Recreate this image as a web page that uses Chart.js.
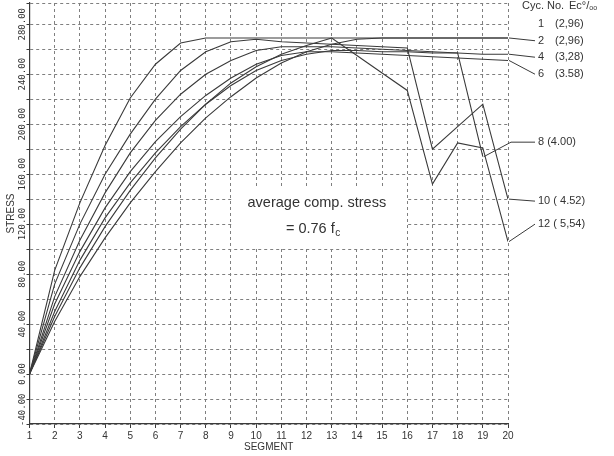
<!DOCTYPE html>
<html>
<head>
<meta charset="utf-8">
<script src="https://cdn.jsdelivr.net/npm/chart.js@4.4.0/dist/chart.umd.min.js"></script>
<style>
  html, body { margin: 0; padding: 0; background: #fff; }
  #wrap { width: 614px; height: 456px; }
</style>
</head>
<body>
<div id="wrap"><canvas id="stressChart" width="614" height="456"></canvas></div>
<script>
// Segmente (x-Achse)
const segments = [1, 2, 3, 4, 5, 6, 7, 8, 9, 10, 11, 12, 13, 14, 15, 16, 17, 18, 19, 20];

// y-Gitter und Beschriftung
const yGridValues = [-40, -20, 0, 20, 40, 60, 80, 100, 120, 140, 160, 180, 200, 220, 240, 260, 280, 297];
const yTickValues = [-40, 0, 40, 80, 120, 160, 200, 240, 280];
const yTickLabels = ['-40.00', '0.00', '40.00', '80.00', '120.00', '160.00', '200.00', '240.00', '280.00'];

// Spannung je Zyklus
const cyc1  = [0, 42, 78, 109, 137, 162, 185, 205, 222, 237, 249, 258, 264, 268, 269, 269, 269, 269, 269, 269];
const cyc2  = [0, 46, 85, 118, 147, 173, 196, 216, 233, 246, 256, 263, 269, 269, 269, 269, 269, 269, 269, 269];
const cyc4  = [0, 50, 91, 125, 153, 177, 198, 216, 231, 243, 251, 256, 259, 259, 258, 258, 257, 257, 256, 256];
const cyc6  = [0, 56, 98, 133, 162, 186, 206, 223, 237, 248, 255, 258, 258, 257, 256, 255, 254, 253, 252, 251];
const cyc8  = [0, 62, 107, 145, 177, 203, 224, 240, 251, 259, 262, 262, 262, 261, 260, 259, 258, 257, 174];
const cyc10 = [0, 72, 120, 160, 192, 220, 243, 258, 266, 268, 266, 265, 264, 263, 262, 261, 180, 198, 216, 140];
const cyc12 = [0, 83, 137, 183, 221, 248, 265, 269, 269, 269, 269, 269, 269, 255, 241, 227, 152, 185, 181, 106];

// Legende rechts
const cycleNames = ['1', '2', '4', '6', '8', '10', '12'];
const strainTexts = ['(2,96)', '(2,96)', '(3,28)', '(3.58)', '(4.00)', '( 4.52)', '( 5,54)'];
const labelValues = [280, 266.8, 253.6, 240, 185.6, 138.4, 120];

const series = [cyc1, cyc2, cyc4, cyc6, cyc8, cyc10, cyc12];

const lineColor = '#3a3a3a';
const gridColor = '#7f7f7f';
const textColor = '#333';

// Leerer Bereich im Gitter fuer den Text
const blankBox = { segFrom: 9.08, segTo: 15.95, valTop: 149, valBottom: 102 };
const noteSeg = 12.41;
const noteVal1 = 136.8;
const noteVal2 = 116;

function toPoints(values) {
  return values.map((v, i) => ({ x: segments[i], y: v }));
}

// Weisses Feld im Gitter
const blankBoxPlugin = {
  id: 'blankBox',
  beforeDatasetsDraw(chart) {
    const { ctx, scales: { x, y } } = chart;
    const x1 = x.getPixelForValue(blankBox.segFrom);
    const x2 = x.getPixelForValue(blankBox.segTo);
    const y1 = y.getPixelForValue(blankBox.valTop);
    const y2 = y.getPixelForValue(blankBox.valBottom);
    ctx.save();
    ctx.fillStyle = '#fff';
    ctx.fillRect(x1, y1, x2 - x1, y2 - y1);
    ctx.restore();
  }
};

// Text im Diagramm, y-Beschriftung und Legende
const textPlugin = {
  id: 'texts',
  afterDraw(chart) {
    const { ctx, chartArea, scales: { x, y } } = chart;
    ctx.save();
    ctx.fillStyle = textColor;

    // average comp. stress
    ctx.font = '14.5px "Liberation Sans", Arial, sans-serif';
    ctx.textAlign = 'center';
    ctx.textBaseline = 'middle';
    const cx = x.getPixelForValue(noteSeg);
    ctx.fillText('average comp. stress', cx, y.getPixelForValue(noteVal1));
    const main = '= 0.76 f';
    const wMain = ctx.measureText(main).width;
    ctx.font = '10px "Liberation Sans", Arial, sans-serif';
    const wSub = ctx.measureText('c').width;
    const startX = cx - (wMain + wSub) / 2 - 4;
    const ly = y.getPixelForValue(noteVal2);
    ctx.textAlign = 'left';
    ctx.font = '14.5px "Liberation Sans", Arial, sans-serif';
    ctx.fillText(main, startX, ly);
    ctx.font = '10px "Liberation Sans", Arial, sans-serif';
    ctx.fillText('c', startX + wMain + 0.5, ly + 4);

    // gedrehte y-Beschriftung (nicht unter die Achse)
    ctx.font = '9px "DejaVu Sans Mono", monospace';
    ctx.textAlign = 'center';
    ctx.textBaseline = 'middle';
    yTickValues.forEach((v, i) => {
      const half = ctx.measureText(yTickLabels[i]).width / 2;
      const py = Math.min(y.getPixelForValue(v), chartArea.bottom + 2 - half);
      ctx.save();
      ctx.translate(22.5, py);
      ctx.rotate(-Math.PI / 2);
      ctx.fillText(yTickLabels[i], 0, 0);
      ctx.restore();
    });

    // Legende rechts
    const labelX = chartArea.right + 30;
    const strainX = chartArea.right + 47;
    ctx.font = '11px "Liberation Sans", Arial, sans-serif';
    ctx.textAlign = 'left';
    ctx.textBaseline = 'middle';
    ctx.fillText('Cyc. No.', chartArea.right + 14, y.getPixelForValue(294.5));
    ctx.fillText('Ec°/', chartArea.right + 61, y.getPixelForValue(294.5));
    const wEc = ctx.measureText('Ec°/').width;
    ctx.font = '7px "Liberation Sans", Arial, sans-serif';
    ctx.fillText('oo', chartArea.right + 61 + wEc, y.getPixelForValue(294.5) + 2);

    ctx.font = '11px "Liberation Sans", Arial, sans-serif';
    ctx.strokeStyle = lineColor;
    ctx.lineWidth = 1;
    series.forEach((vals, i) => {
      const ly = y.getPixelForValue(labelValues[i]);
      if (i < 4) {
        ctx.fillText(cycleNames[i], labelX, ly);
        ctx.fillText(strainTexts[i], strainX, ly);
      } else {
        ctx.fillText(cycleNames[i] + ' ' + strainTexts[i], labelX, ly);
      }
      if (i === 0) return;
      const last = vals.length - 1;
      const ex = x.getPixelForValue(segments[last]);
      const ey = y.getPixelForValue(vals[last]);
      ctx.beginPath();
      ctx.moveTo(ex + 1, ey);
      if (last < segments.length - 1) {
        ctx.lineTo(chartArea.right + 3, ly);
      }
      ctx.lineTo(labelX - 3, ly);
      ctx.stroke();
    });
    ctx.restore();
  }
};

const ctx = document.getElementById('stressChart').getContext('2d');
new Chart(ctx, {
  type: 'line',
  data: {
    datasets: series.map((vals, i) => ({
      label: 'Cyc. ' + cycleNames[i],
      data: toPoints(vals),
      borderColor: lineColor,
      borderWidth: 1.1,
      pointRadius: 0,
      tension: 0,
      fill: false
    }))
  },
  options: {
    responsive: false,
    animation: false,
    devicePixelRatio: 1,
    layout: { autoPadding: false, padding: { left: 0, right: 106, top: 3, bottom: 0 } },
    plugins: {
      legend: { display: false },
      tooltip: { enabled: false }
    },
    scales: {
      x: {
        type: 'linear',
        min: 1,
        max: 20,
        afterFit: s => { s.height = 32; },
        ticks: {
          stepSize: 1,
          color: textColor,
          padding: 2,
          font: { family: '"Liberation Sans", Arial, sans-serif', size: 10 }
        },
        grid: { color: gridColor, tickColor: lineColor, tickLength: 4, lineWidth: 1 },
        border: { display: true, color: lineColor, width: 1.2, dash: [3, 3] },
        title: {
          display: true,
          text: 'SEGMENT',
          color: textColor,
          padding: { top: 0, bottom: 3 },
          font: { family: '"Liberation Sans", Arial, sans-serif', size: 10 }
        }
      },
      y: {
        type: 'linear',
        min: -40,
        max: 297,
        afterFit: s => { s.width = 29.5; },
        afterBuildTicks: s => { s.ticks = yGridValues.map(v => ({ value: v })); },
        ticks: { display: false },
        grid: { color: gridColor, tickColor: lineColor, tickLength: 3, lineWidth: 1 },
        border: { display: true, color: lineColor, width: 1.2, dash: [3, 3] },
        title: {
          display: true,
          text: 'STRESS',
          color: textColor,
          padding: { top: 5, bottom: 0 },
          font: { family: '"Liberation Sans", Arial, sans-serif', size: 10 }
        }
      }
    }
  },
  plugins: [blankBoxPlugin, textPlugin]
});
</script>
</body>
</html>
